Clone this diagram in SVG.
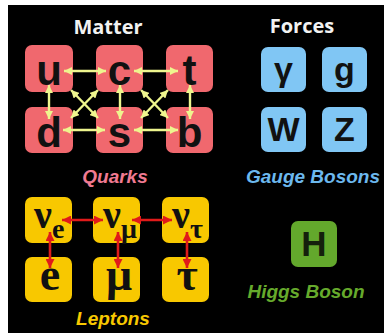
<svg xmlns="http://www.w3.org/2000/svg" width="384" height="333" viewBox="0 0 384 333">
<defs>
<marker id="ay" viewBox="0 0 10 10" refX="10" refY="5" markerWidth="8" markerHeight="8" markerUnits="userSpaceOnUse" orient="auto-start-reverse"><path d="M0,0 L10,5 L0,10 z" fill="#eef58e"/></marker>
<marker id="ar" viewBox="0 0 10 10" refX="10" refY="5" markerWidth="9" markerHeight="9" markerUnits="userSpaceOnUse" orient="auto-start-reverse"><path d="M0,0 L10,5 L0,10 z" fill="#e01a1a"/></marker>
<style>
.title{font-family:"Open Sans","Liberation Sans",sans-serif;font-weight:700;font-size:20px;fill:#f2f2f2;text-anchor:middle}
.lab{font-family:"Liberation Sans",Arial,sans-serif;font-weight:700;font-style:italic;font-size:19px;text-anchor:middle}
.q{fill:#f0686e}
.l{fill:#f8c800}
.g{fill:#80c6f4}
.h{fill:#63a82c}
.qt{font-family:"Liberation Sans",Arial,sans-serif;font-weight:700;font-size:42px;fill:#111;text-anchor:middle}
.gt{font-family:"Liberation Sans",Arial,sans-serif;font-weight:700;font-size:34px;fill:#111;text-anchor:middle}
.lt{font-family:"Liberation Serif","Times New Roman",serif;font-weight:700;font-size:46px;fill:#111;text-anchor:middle}
.nu{font-family:"Liberation Serif","Times New Roman",serif;font-weight:700;font-size:40px;fill:#111}
.sub{font-size:28px}
.ya{stroke:#eef58e;stroke-width:2.4;fill:none;marker-start:url(#ay);marker-end:url(#ay)}
.ra{stroke:#e01a1a;stroke-width:2.6;fill:none;marker-start:url(#ar);marker-end:url(#ar)}
</style>
</defs>
<rect x="0" y="0" width="384" height="333" fill="#ffffff"/>
<rect x="8" y="5" width="376" height="328" fill="#000000"/>

<text class="title" x="108" y="34">Matter</text>
<text class="title" x="302" y="33">Forces</text>

<g id="quark-u"><rect class="q" x="25" y="45" width="48" height="47" rx="7"/><text class="qt" x="49" y="85">u</text></g>
<g id="quark-c"><rect class="q" x="96" y="45" width="47" height="47" rx="7"/><text class="qt" x="119.5" y="85">c</text></g>
<g id="quark-t"><rect class="q" x="166" y="45" width="47" height="47" rx="7"/><text class="qt" x="189.5" y="85">t</text></g>
<g id="quark-d"><rect class="q" x="25" y="107" width="48" height="46" rx="7"/><text class="qt" x="49" y="147">d</text></g>
<g id="quark-s"><rect class="q" x="96" y="107" width="47" height="46" rx="7"/><text class="qt" x="119.5" y="147">s</text></g>
<g id="quark-b"><rect class="q" x="166" y="107" width="47" height="46" rx="7"/><text class="qt" x="189.5" y="147">b</text></g>

<g id="lepton-ve"><rect class="l" x="25" y="197" width="47" height="46" rx="7"/><text class="nu" x="34" y="228">ν<tspan class="sub" dy="10">e</tspan></text></g>
<g id="lepton-vmu"><rect class="l" x="93" y="197" width="47" height="46" rx="7"/><text class="nu" x="103" y="228">ν<tspan class="sub" dy="10">μ</tspan></text></g>
<g id="lepton-vtau"><rect class="l" x="162" y="197" width="47" height="46" rx="7"/><text class="nu" x="172" y="228">ν<tspan class="sub" dy="10">τ</tspan></text></g>
<g id="lepton-e"><rect class="l" x="25" y="257" width="47" height="45" rx="7"/><text class="lt" x="50" y="290">e</text></g>
<g id="lepton-mu"><rect class="l" x="93" y="257" width="47" height="45" rx="7"/><text class="lt" x="119" y="290">μ</text></g>
<g id="lepton-tau"><rect class="l" x="162" y="257" width="47" height="45" rx="7"/><text class="lt" x="187" y="290">τ</text></g>

<g id="boson-gamma"><rect class="g" x="261" y="47" width="45" height="45" rx="7"/><text class="gt" x="283.5" y="81">γ</text></g>
<g id="boson-g"><rect class="g" x="322" y="47" width="45" height="45" rx="7"/><text class="gt" x="344.5" y="81">g</text></g>
<g id="boson-W"><rect class="g" x="261" y="107" width="45" height="45" rx="7"/><text class="gt" x="283.5" y="141">W</text></g>
<g id="boson-Z"><rect class="g" x="322" y="107" width="45" height="45" rx="7"/><text class="gt" x="344.5" y="141">Z</text></g>

<g id="higgs-H"><rect class="h" x="291" y="221" width="46" height="46" rx="7"/><text class="gt" x="314" y="256" style="font-size:35px;fill:#14200c">H</text></g>

<text class="lab" x="115" y="183" fill="#f07a92">Quarks</text>
<text class="lab" x="113" y="325" fill="#f8c800">Leptons</text>
<text class="lab" x="313" y="183" fill="#6cb8ee">Gauge Bosons</text>
<text class="lab" x="306" y="298" fill="#66aa2c">Higgs Boson</text>

<g id="connectors">
<path class="ya" d="M64,71 H106"/>
<path class="ya" d="M134,71 H178"/>
<path class="ya" d="M63,130 H105"/>
<path class="ya" d="M134,130 H178"/>
<path class="ya" d="M49,85 V119"/>
<path class="ya" d="M120,85 V119"/>
<path class="ya" d="M190,85 V119"/>
<path class="ya" d="M71,90 L98,118"/>
<path class="ya" d="M98,90 L71,118"/>
<path class="ya" d="M141,90 L168,118"/>
<path class="ya" d="M168,90 L141,118"/>
<path class="ra" d="M62,220 H103"/>
<path class="ra" d="M132,220 H172"/>
<path class="ra" d="M50,232 V268"/>
<path class="ra" d="M118,232 V268"/>
<path class="ra" d="M187,232 V268"/>
</g>
</svg>
